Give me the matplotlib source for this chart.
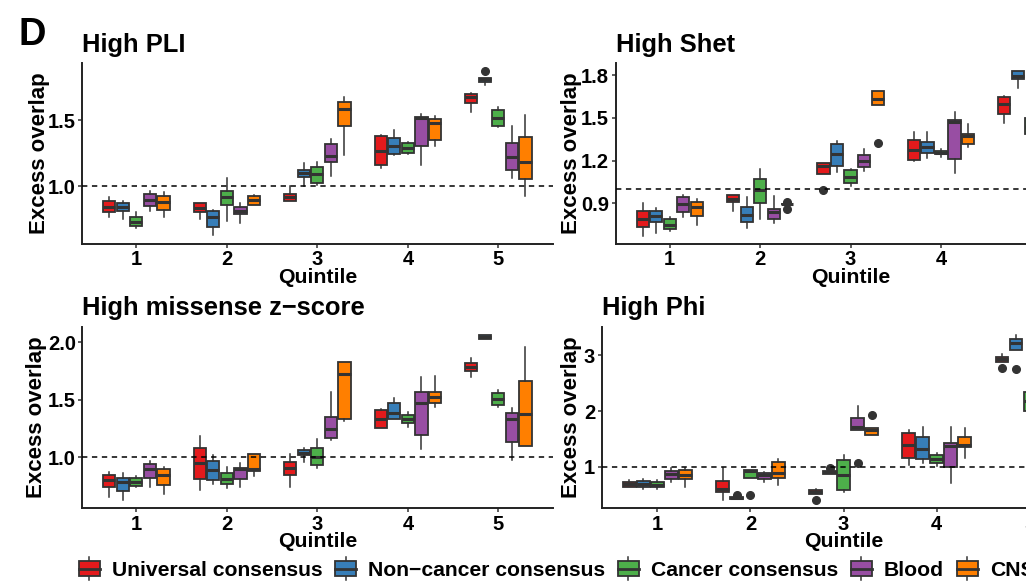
import numpy as np
import matplotlib
matplotlib.use("Agg")
import matplotlib.pyplot as plt
from matplotlib.legend_handler import HandlerBase
from matplotlib.patches import Rectangle, Patch
from matplotlib.lines import Line2D

nan = np.nan
plt.rcParams.update({"font.family": ["Liberation Sans", "DejaVu Sans"],
                     "font.weight": "bold"})

GROUPS = ["Universal consensus", "Non\u2212cancer consensus", "Cancer consensus", "Blood", "CNS"]
COLORS = ["#E41A1C", "#377EB8", "#4DAF4A", "#984EA3", "#FF7F00"]
QUINTILES = [1, 2, 3, 4, 5]
EDGE = "#333333"

# rows = quintile 1..5, columns = groups (same order as GROUPS)
# ---- High PLI
PLI_LO = [[0.766, 0.754, 0.686, 0.816, 0.769],
          [0.754, 0.631, 0.736, 0.721, 0.861],
          [0.889, 1.005, 1.008, 1.078, 1.234],
          [1.140, 1.234, 1.241, 1.163, 1.304],
          [1.560, 1.766, 1.445, 1.065, 0.927]]
PLI_Q1 = [[0.804, 0.812, 0.701, 0.854, 0.824],
          [0.806, 0.696, 0.859, 0.791, 0.861],
          [0.889, 1.068, 1.027, 1.181, 1.452],
          [1.161, 1.241, 1.251, 1.304, 1.351],
          [1.633, 1.791, 1.452, 1.121, 1.057]]
PLI_MED = [[0.844, 0.842, 0.733, 0.895, 0.882],
           [0.834, 0.766, 0.919, 0.816, 0.897],
           [0.917, 1.103, 1.093, 1.231, 1.585],
           [1.268, 1.304, 1.286, 1.517, 1.477],
           [1.675, 1.811, 1.517, 1.221, 1.183]]
PLI_Q3 = [[0.889, 0.872, 0.771, 0.940, 0.925],
          [0.874, 0.814, 0.967, 0.844, 0.927],
          [0.940, 1.123, 1.148, 1.317, 1.635],
          [1.379, 1.364, 1.324, 1.524, 1.509],
          [1.701, 1.821, 1.575, 1.326, 1.372]]
PLI_HI = [[0.922, 0.891, 0.804, 0.962, 0.957],
          [0.874, 0.819, 1.060, 0.874, 0.937],
          [1.000, 1.173, 1.181, 1.354, 1.671],
          [1.389, 1.422, 1.336, 1.543, 1.528],
          [1.708, 1.821, 1.600, 1.452, 1.535]]
PLI_OUT = {(4, 1): [1.874]}

# ---- High Shet (quintile 5 mostly outside the crop)
SHET_LO = [[0.674, 0.691, 0.709, 0.803, 0.751],
           [0.847, 0.728, 0.789, 0.765, 0.893],
           [1.108, 1.118, 1.024, 1.127, 1.590],
           [1.197, 1.218, 1.227, 1.115, 1.295],
           [1.468, 1.714, 1.350, nan, nan]]
SHET_Q1 = [[0.735, 0.770, 0.719, 0.842, 0.812],
           [0.908, 0.770, 0.901, 0.791, 0.893],
           [1.108, 1.164, 1.045, 1.157, 1.590],
           [1.202, 1.255, 1.246, 1.209, 1.314],
           [1.525, 1.772, 1.390, nan, nan]]
SHET_MED = [[0.789, 0.812, 0.751, 0.894, 0.873],
            [0.931, 0.819, 0.994, 0.838, 0.896],
            [1.164, 1.244, 1.087, 1.195, 1.634],
            [1.274, 1.295, 1.255, 1.471, 1.373],
            [1.599, 1.798, 1.440, nan, nan]]
SHET_Q3 = [[0.845, 0.845, 0.791, 0.943, 0.908],
           [0.959, 0.877, 1.073, 0.859, 0.899],
           [1.181, 1.316, 1.134, 1.237, 1.686],
           [1.345, 1.333, 1.270, 1.485, 1.391],
           [1.644, 1.830, 1.500, nan, nan]]
SHET_HI = [[0.903, 0.866, 0.807, 0.959, 0.931],
           [0.959, 0.943, 1.139, 0.950, 0.899],
           [1.185, 1.335, 1.139, 1.281, 1.686],
           [1.401, 1.401, 1.284, 1.539, 1.455],
           [1.655, 1.833, 1.550, nan, nan]]
SHET_OUT = {(1, 4): [0.910, 0.860], (2, 0): [0.994], (2, 4): [1.326]}

# ---- High missense z-score
MIS_LO = [[0.649, 0.625, 0.741, 0.741, 0.677],
          [0.712, 0.765, 0.730, 0.741, 0.834],
          [0.736, 0.956, 0.907, 1.146, 1.314],
          [1.255, 1.331, 1.262, 1.072, 1.433],
          [1.700, 2.029, 1.439, 0.971, 1.096]]
MIS_Q1 = [[0.741, 0.706, 0.750, 0.820, 0.756],
          [0.811, 0.797, 0.765, 0.811, 0.881],
          [0.840, 1.015, 0.930, 1.166, 1.331],
          [1.255, 1.331, 1.299, 1.192, 1.473],
          [1.750, 2.029, 1.456, 1.131, 1.096]]
MIS_MED = [[0.799, 0.779, 0.785, 0.893, 0.843],
           [0.945, 0.884, 0.808, 0.893, 0.898],
           [0.901, 1.035, 0.997, 1.241, 1.724],
           [1.331, 1.386, 1.334, 1.468, 1.523],
           [1.785, 2.045, 1.506, 1.329, 1.375]]
MIS_Q3 = [[0.843, 0.820, 0.814, 0.939, 0.895],
          [1.076, 0.965, 0.858, 0.901, 1.026],
          [0.954, 1.058, 1.076, 1.346, 1.831],
          [1.410, 1.468, 1.366, 1.569, 1.569],
          [1.817, 2.064, 1.555, 1.381, 1.665]]
MIS_HI = [[0.872, 0.858, 0.834, 0.965, 0.916],
          [1.183, 1.020, 0.916, 0.950, 1.026],
          [1.026, 1.078, 1.154, 1.569, 1.831],
          [1.416, 1.517, 1.390, 1.695, 1.706],
          [1.866, 2.064, 1.587, 1.430, 1.956]]
MIS_OUT = {}

# ---- High Phi (quintile 5 mostly outside the crop)
PHI_LO = [[0.647, 0.601, 0.611, 0.731, 0.642],
          [0.409, 0.421, 0.797, 0.731, 0.678],
          [0.522, 0.880, 0.547, 1.657, 1.578],
          [1.041, 1.066, 1.023, 0.719, 1.161],
          [2.885, 3.095, 2.003, nan, nan]]
PHI_Q1 = [[0.647, 0.637, 0.637, 0.791, 0.780],
          [0.552, 0.421, 0.797, 0.780, 0.803],
          [0.522, 0.880, 0.583, 1.657, 1.578],
          [1.161, 1.138, 1.077, 0.995, 1.353],
          [2.885, 3.095, 2.003, nan, nan]]
PHI_MED = [[0.701, 0.701, 0.685, 0.880, 0.862],
           [0.606, 0.440, 0.930, 0.851, 0.898],
           [0.552, 0.905, 0.851, 1.711, 1.662],
           [1.389, 1.317, 1.143, 1.376, 1.389],
           [2.934, 3.220, 2.182, nan, nan]]
PHI_Q3 = [[0.737, 0.749, 0.726, 0.928, 0.941],
          [0.755, 0.457, 0.946, 0.898, 1.084],
          [0.583, 0.928, 1.120, 1.883, 1.698],
          [1.614, 1.532, 1.215, 1.435, 1.543],
          [2.970, 3.287, 2.348, nan, nan]]
PHI_HI = [[0.767, 0.780, 0.767, 0.977, 0.988],
          [0.988, 0.457, 0.946, 0.916, 1.138],
          [0.606, 0.928, 1.215, 2.087, 1.698],
          [1.662, 1.722, 1.245, 1.722, 1.698],
          [3.029, 3.363, 2.348, nan, nan]]
PHI_OUT = {(1, 1): [0.499], (1, 2): [0.499], (2, 0): [0.409], (2, 1): [0.988],
           (2, 3): [1.077], (2, 4): [1.926], (4, 0): [2.773], (4, 1): [2.749]}

W, H = 1026, 582
fig = plt.figure(figsize=(W / 100, H / 100), dpi=100)


def px_axes(left, top, right, bottom):
    return fig.add_axes([left / W, 1 - bottom / H, (right - left) / W, (bottom - top) / H])


def panel(ax, lo, q1, med, q3, hi, out, ylim, yticks, ylabels, title, ylab_x, left_px, width_px):
    for qi, q in enumerate(QUINTILES):
        for g in range(len(GROUPS)):
            if np.isnan(med[qi][g]):
                continue
            st = dict(med=med[qi][g], q1=q1[qi][g], q3=q3[qi][g],
                      whislo=lo[qi][g], whishi=hi[qi][g], fliers=out.get((qi, g), []))
            ax.bxp([st], positions=[q + (g - 2) * 0.15], widths=0.135, patch_artist=True,
                   showcaps=False, manage_ticks=False,
                   boxprops=dict(facecolor=COLORS[g], edgecolor=EDGE, linewidth=1.3),
                   medianprops=dict(color=EDGE, linewidth=2.2),
                   whiskerprops=dict(color=EDGE, linewidth=1.1),
                   flierprops=dict(marker="o", markerfacecolor=EDGE, markeredgecolor=EDGE,
                                   markersize=5.5))
    ax.axhline(1.0, color="black", lw=1.1, ls=(0, (3.5, 3)), zorder=3)
    ax.set_xlim(0.4, 5.6)
    ax.set_ylim(*ylim)
    ax.set_xticks(QUINTILES)
    ax.set_xticklabels([str(q) for q in QUINTILES])
    ax.set_yticks(yticks)
    ax.set_yticklabels(ylabels)
    for s in ["top", "right"]:
        ax.spines[s].set_visible(False)
    for s in ["left", "bottom"]:
        ax.spines[s].set_linewidth(1.4)
        ax.spines[s].set_color("#222222")
    ax.tick_params(length=3, width=1.1, color="#333333", labelsize=14.5, pad=1.5,
                   labelcolor="black")
    ax.set_title(title, loc="left", fontsize=18.4, fontweight="bold", pad=8.3)
    ax.set_xlabel("Quintile", fontsize=15.3, fontweight="bold", va="baseline")
    ax.xaxis.set_label_coords(0.5, -39.0 / 181.0)
    ax.set_ylabel("Excess overlap", fontsize=16, fontweight="bold", va="baseline")
    ax.yaxis.set_label_coords((ylab_x - left_px) / width_px, 0.5)


ax1 = px_axes(82.1, 63.3, 552.6, 244)
panel(ax1, PLI_LO, PLI_Q1, PLI_MED, PLI_Q3, PLI_HI, PLI_OUT, (0.565, 1.929),
      [1.0, 1.5], ["1.0", "1.5"], "High PLI", 45, 82.1, 470.5)

ax2 = px_axes(615.5, 63.3, 1085.7, 244)
panel(ax2, SHET_LO, SHET_Q1, SHET_MED, SHET_Q3, SHET_HI, SHET_OUT, (0.615, 1.884),
      [0.9, 1.2, 1.5, 1.8], ["0.9", "1.2", "1.5", "1.8"], "High Shet", 577, 615.5, 470.2)

ax3 = px_axes(82.1, 327, 552.6, 508.3)
panel(ax3, MIS_LO, MIS_Q1, MIS_MED, MIS_Q3, MIS_HI, MIS_OUT, (0.553, 2.133),
      [1.0, 1.5, 2.0], ["1.0", "1.5", "2.0"], "High missense z\u2212score", 42, 82.1, 470.5)

ax4 = px_axes(601.5, 327, 1085.7, 508.3)
panel(ax4, PHI_LO, PHI_Q1, PHI_MED, PHI_Q3, PHI_HI, PHI_OUT, (0.26, 3.507),
      [1, 2, 3], ["1", "2", "3"], "High Phi", 577, 601.5, 484.2)

fig.text(18.5 / W, 1 - 45 / H, "D", fontsize=27.5, fontweight="bold", va="baseline", ha="left")


class BoxKey(HandlerBase):
    def create_artists(self, legend, orig, xd, yd, w, h, fs, trans):
        x0, y0 = -xd, -yd
        cx = x0 + w / 2
        r = Rectangle((x0, y0), w, h, facecolor=orig.get_facecolor(), edgecolor=EDGE,
                      lw=1.3, transform=trans)
        m = Line2D([x0, x0 + w], [y0 + h / 2] * 2, color=EDGE, lw=2.0, transform=trans)
        w1 = Line2D([cx, cx], [y0 + h, y0 + 1.25 * h], color=EDGE, lw=1.1, transform=trans)
        w2 = Line2D([cx, cx], [y0 - 0.25 * h, y0], color=EDGE, lw=1.1, transform=trans)
        return [w1, w2, r, m]


handles = [Patch(facecolor=c) for c in COLORS]
fig.legend(handles, GROUPS, handler_map={Patch: BoxKey()}, loc="center left",
           bbox_to_anchor=(78.6 / W, 1 - 570.5 / H), ncol=5, frameon=False,
           borderpad=0, borderaxespad=0, handlelength=1.0, handleheight=0.72,
           handletextpad=0.56, columnspacing=0.6, prop=dict(size=15.25, weight="bold"))

fig.savefig("out.png", dpi=100)
